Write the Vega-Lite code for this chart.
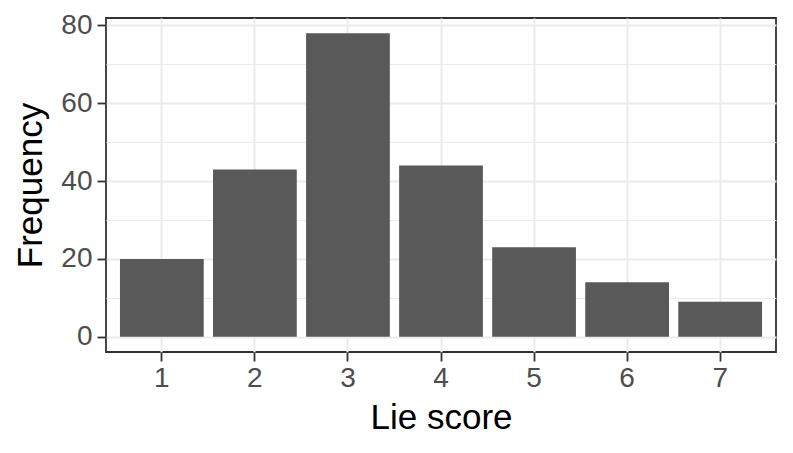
{
  "$schema": "https://vega.github.io/schema/vega-lite/v6.json",
  "width": 670,
  "height": 334,
  "autosize": {"type": "none"},
  "padding": {"left": 106, "top": 18, "right": 17, "bottom": 101},
  "background": "white",
  "config": {
    "font": "Liberation Sans",
    "view": {"stroke": "#333333", "strokeWidth": 1.8, "fill": "white"},
    "axis": {
      "domain": false,
      "gridColor": "#EBEBEB",
      "tickColor": "#333333",
      "tickWidth": 1.8,
      "tickSize": 9,
      "labelColor": "#4D4D4D",
      "labelFont": "Liberation Sans",
      "labelFontSize": 28,
      "titleFont": "Liberation Sans",
      "titleFontSize": 35,
      "titleFontWeight": "normal",
      "titleColor": "black"
    }
  },
  "data": {
    "values": [
      {"score": "1", "freq": 20},
      {"score": "2", "freq": 43},
      {"score": "3", "freq": 78},
      {"score": "4", "freq": 44},
      {"score": "5", "freq": 23},
      {"score": "6", "freq": 14},
      {"score": "7", "freq": 9}
    ]
  },
  "mark": {"type": "bar", "color": "#595959"},
  "encoding": {
    "x": {
      "field": "score",
      "type": "ordinal",
      "title": "Lie score",
      "scale": {"paddingInner": 0.1, "paddingOuter": 0.15},
      "axis": {
        "labelAngle": 0,
        "bandPosition": 0.5,
        "grid": true,
        "gridWidth": 2,
        "labelPadding": 3,
        "titleX": 335,
        "titleY": 76,
        "titleBaseline": "alphabetic",
        "titleAnchor": "middle"
      }
    },
    "y": {
      "field": "freq",
      "type": "quantitative",
      "title": "Frequency",
      "scale": {"domain": [-3.9, 81.9], "nice": false, "zero": false},
      "axis": {
        "values": [0, 10, 20, 30, 40, 50, 60, 70, 80],
        "labelExpr": "datum.value % 20 === 0 ? datum.label : ''",
        "tickOpacity": {"condition": {"test": "datum.value % 20 === 0", "value": 1}, "value": 0},
        "gridWidth": {"condition": {"test": "datum.value % 20 === 0", "value": 2}, "value": 1},
        "labelPadding": 5,
        "titleX": -76,
        "titleY": 167,
        "titleBaseline": "middle",
        "titleAnchor": "middle"
      }
    }
  }
}
